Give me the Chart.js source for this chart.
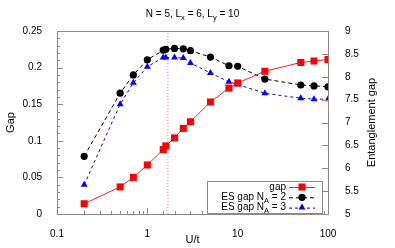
<!DOCTYPE html>
<html>
<head>
<meta charset="utf-8">
<script src="https://cdn.jsdelivr.net/npm/chart.js@4.4.1/dist/chart.umd.min.js"></script>
<style>
  body { margin: 0; background: #fff; }
  #wrap { width: 395px; height: 248px; }
</style>
</head>
<body>
<div id="wrap"><canvas id="gapChart"></canvas></div>
<script>
// values
const uValues  = [0.2, 0.5, 0.7, 1, 1.5, 1.6, 2, 2.5, 3, 5, 8, 10, 20, 50, 70, 100];
const gapValues = [0.014, 0.037, 0.050, 0.067, 0.088, 0.093, 0.104, 0.117, 0.126, 0.153, 0.172, 0.179, 0.195, 0.207, 0.209, 0.211];
const esGapNA2 = [6.26, 7.64, 8.04, 8.37, 8.58, 8.60, 8.62, 8.61, 8.57, 8.43, 8.24, 8.23, 7.95, 7.82, 7.80, 7.78];
const esGapNA3 = [5.64, 7.40, 7.87, 8.22, 8.42, 8.42, 8.42, 8.41, 8.30, 8.08, 7.89, 7.83, 7.64, 7.53, 7.51, 7.51];
const criticalU = 1.69;
const xTickLabels = [0.1, 1, 10, 100];
const gapRange = [0, 0.25];
const esRange = [5, 9];

const FONT = 'Liberation Sans, Arial, sans-serif';
const FRAME = '#8a8a8a';

const toPoints = (ys) => uValues.map((u, i) => ({ x: u, y: ys[i] }));

// draws text with a subscript piece; parts = [[text, isSub], ...]
function subText(ctx, parts, x, y, align, size) {
    let w = 0;
    parts.forEach(p => {
        ctx.font = (p[1] ? size * 0.75 : size) + 'px ' + FONT;
        w += ctx.measureText(p[0]).width;
    });
    let cx = align === 'right' ? x - w : (align === 'center' ? x - w / 2 : x);
    ctx.textAlign = 'left';
    ctx.textBaseline = 'middle';
    parts.forEach(p => {
        ctx.font = (p[1] ? size * 0.75 : size) + 'px ' + FONT;
        ctx.fillText(p[0], cx, p[1] ? y + size * 0.35 : y);
        cx += ctx.measureText(p[0]).width;
    });
}

const framePlugin = {
    id: 'frame',
    afterDraw(chart) {
        const ctx = chart.ctx;
        const a = chart.chartArea;
        const xs = chart.scales.x, yl = chart.scales.y, yr = chart.scales.y2;
        ctx.save();
        ctx.strokeStyle = FRAME;
        ctx.lineWidth = 1;
        ctx.beginPath();
        // x ticks (log, minor at 2..9)
        xs.ticks.forEach(t => {
            const px = Math.round(xs.getPixelForValue(t.value)) + 0.5;
            const len = xTickLabels.includes(t.value) ? 6 : 3;
            ctx.moveTo(px, a.bottom); ctx.lineTo(px, a.bottom - len);
        });
        // left y: major every 0.05, minor every 0.01
        for (let i = 0; i <= 25; i++) {
            const py = Math.round(yl.getPixelForValue(i / 100)) + 0.5;
            const len = i % 5 === 0 ? 6 : 3;
            ctx.moveTo(a.left, py); ctx.lineTo(a.left + len, py);
        }
        // right y ticks
        yr.ticks.forEach(t => {
            const py = Math.round(yr.getPixelForValue(t.value)) + 0.5;
            ctx.moveTo(a.right, py); ctx.lineTo(a.right - 6, py);
        });
        ctx.stroke();
        ctx.strokeRect(Math.round(a.left) + 0.5, Math.round(a.top) + 0.5,
            Math.round(a.right - a.left), Math.round(a.bottom - a.top));

        // title with subscripts
        ctx.fillStyle = '#000';
        subText(ctx, [['N = 5, L', false], ['x', true], [' = 6, L', false], ['y', true], [' = 10', false]],
            (a.left + a.right) / 2, 14, 'center', 10);

        // right axis title, reading upwards
        ctx.save();
        ctx.translate(372, (a.top + a.bottom) / 2);
        ctx.rotate(-Math.PI / 2);
        ctx.font = '11px ' + FONT;
        ctx.textAlign = 'center';
        ctx.textBaseline = 'middle';
        ctx.fillText('Entanglement gap', 0, 0);
        ctx.restore();

        // legend box
        const bx = a.right - 121, by = a.bottom - 33, bw = 115, bh = 32;
        ctx.fillStyle = '#fff';
        ctx.fillRect(bx, by, bw, bh);
        ctx.strokeStyle = FRAME;
        ctx.strokeRect(bx + 0.5, by + 0.5, bw, bh);
        const rows = [
            { parts: [['gap', false]], ds: 0 },
            { parts: [['ES gap N', false], ['A', true], [' = 2', false]], ds: 1 },
            { parts: [['ES gap N', false], ['A', true], [' = 3', false]], ds: 2 }
        ];
        rows.forEach((r, i) => {
            const ry = by + 6 + i * 10.3;
            ctx.fillStyle = '#000';
            subText(ctx, r.parts, bx + 79, ry, 'right', 10);
            const d = chart.data.datasets[r.ds];
            ctx.strokeStyle = d.borderColor;
            ctx.lineWidth = 1;
            ctx.setLineDash(d.borderDash || []);
            ctx.beginPath();
            ctx.moveTo(bx + 82, ry + 0.5); ctx.lineTo(bx + 108, ry + 0.5);
            ctx.stroke();
            ctx.setLineDash([]);
            ctx.fillStyle = d.pointBackgroundColor;
            Chart.helpers.drawPoint(ctx, { pointStyle: d.pointStyle, radius: d.pointRadius, borderWidth: 0 }, bx + 95, ry);
        });
        ctx.restore();
    }
};

const ctx = document.getElementById('gapChart').getContext('2d');
const gapChart = new Chart(ctx, {
    type: 'line',
    data: {
        datasets: [
            {
                label: 'gap',
                data: toPoints(gapValues),
                yAxisID: 'y',
                borderColor: '#ff2020',
                backgroundColor: '#ff0000',
                pointBackgroundColor: '#ff0000',
                borderWidth: 1,
                pointStyle: 'rect',
                pointRadius: 5,
                pointBorderWidth: 0
            },
            {
                label: 'ES gap NA = 2',
                data: toPoints(esGapNA2),
                yAxisID: 'y2',
                borderColor: '#000',
                pointBackgroundColor: '#000',
                borderWidth: 1,
                borderDash: [4, 3],
                pointStyle: 'circle',
                pointRadius: 3.6,
                pointBorderWidth: 0
            },
            {
                label: 'ES gap NA = 3',
                data: toPoints(esGapNA3),
                yAxisID: 'y2',
                borderColor: '#0000ff',
                pointBackgroundColor: '#0000ff',
                borderWidth: 1,
                borderDash: [3, 3],
                pointStyle: 'triangle',
                pointRadius: 4,
                pointBorderWidth: 0
            },
            {
                label: 'critical U',
                data: [{ x: criticalU, y: gapRange[0] }, { x: criticalU, y: gapRange[1] }],
                yAxisID: 'y',
                borderColor: '#e070e0',
                borderWidth: 1,
                borderDash: [1, 2],
                pointRadius: 0
            }
        ]
    },
    options: {
        responsive: true,
        maintainAspectRatio: false,
        animation: false,
        devicePixelRatio: 1,
        layout: { padding: { top: 31, left: 0, right: 0, bottom: 0 } },
        plugins: {
            legend: { display: false },
            tooltip: { enabled: false }
        },
        scales: {
            x: {
                type: 'logarithmic',
                min: 0.1,
                max: 100,
                grid: { display: false },
                border: { display: false },
                ticks: {
                    autoSkip: false,
                    maxRotation: 0,
                    padding: 6,
                    color: '#000',
                    font: { family: FONT, size: 10 },
                    callback: (v) => xTickLabels.includes(v) ? String(v) : ''
                },
                title: {
                    display: true, text: 'U/t', color: '#000',
                    font: { family: FONT, size: 11 },
                    padding: { top: 0, bottom: 1 }
                },
                afterFit: (s) => { s.height = 34; }
            },
            y: {
                position: 'left',
                min: gapRange[0],
                max: gapRange[1],
                grid: { display: false },
                border: { display: false },
                ticks: {
                    stepSize: 0.05,
                    padding: 7,
                    color: '#000',
                    font: { family: FONT, size: 10 },
                    callback: (v) => String(Math.round(v * 100) / 100)
                },
                title: {
                    display: true, text: 'Gap', color: '#000',
                    font: { family: FONT, size: 11 },
                    padding: { top: 4, bottom: 0 }
                },
                afterFit: (s) => { s.width = 57; }
            },
            y2: {
                position: 'right',
                min: esRange[0],
                max: esRange[1],
                grid: { display: false },
                border: { display: false },
                ticks: {
                    stepSize: 0.5,
                    padding: 9,
                    color: '#000',
                    font: { family: FONT, size: 10 },
                    callback: (v) => String(Math.round(v * 10) / 10)
                },
                afterFit: (s) => { s.width = 67; }
            }
        }
    },
    plugins: [framePlugin]
});
</script>
</body>
</html>
